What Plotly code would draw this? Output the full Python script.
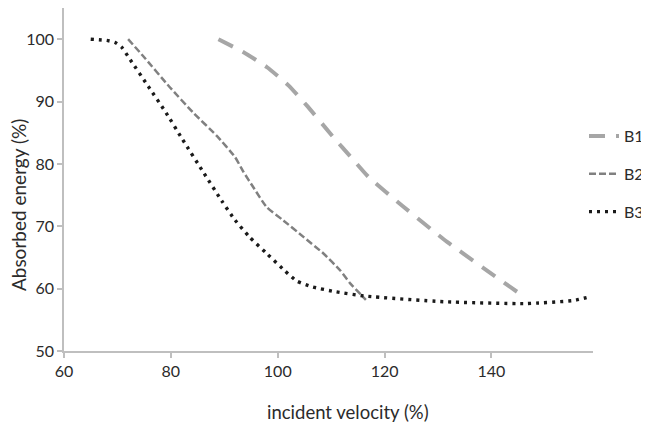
import plotly.graph_objects as go

# Data
b1_x = [88.9, 93.6, 98.0, 102.0, 105.5, 110.4, 113.9, 117.0, 123.3, 131.7, 146.1]
b1_y = [100, 97.9, 95.5, 92.6, 89.3, 84.3, 80.9, 77.9, 73.3, 67.5, 58.7]

b2_x = [72.0, 74.8, 79.8, 84.2, 88.6, 92.0, 93.6, 95.4, 97.9, 101.1, 104.8, 108.6, 111.7, 113.6, 116.5]
b2_y = [100, 97.3, 92.3, 88.2, 84.5, 81.1, 78.7, 76.3, 73.1, 70.9, 68.3, 65.6, 62.9, 60.8, 58.2]

b3_x = [65.0, 68.0, 69.5, 70.8, 72.4, 75.8, 79.1, 82.2, 86.2, 89.5, 92.0, 94.8, 98.1, 101.4,
        103.6, 106.4, 110.8, 116.4, 131.1, 146.4, 155.4, 158.4]
b3_y = [100, 99.8, 99.5, 98.7, 96.7, 92.4, 88.2, 83.9, 78.5, 74.1, 71.0, 68.2, 65.5, 62.8,
        61.2, 60.3, 59.5, 58.8, 57.9, 57.6, 58.1, 58.7]

series_names = ["B1", "B2", "B3"]
x_ticks = [60, 80, 100, 120, 140]
y_ticks = [50, 60, 70, 80, 90, 100]
x_title = "incident velocity (%)"
y_title = "Absorbed energy (%)"

FONT = "Lato, 'Open Sans', sans-serif"

fig = go.Figure()
fig.add_trace(go.Scatter(x=b1_x, y=b1_y, mode="lines", name=series_names[0], legendgroup="g1",
                         line=dict(color="#a6a6a6", width=4, dash="16px,11px", shape="spline", smoothing=0.5)))
fig.add_trace(go.Scatter(x=b2_x, y=b2_y, mode="lines", name=series_names[1], legendgroup="g2",
                         line=dict(color="#808080", width=2.5, dash="7px,3px", shape="spline", smoothing=0.5)))
fig.add_trace(go.Scatter(x=b3_x, y=b3_y, mode="lines", name=series_names[2], legendgroup="g3",
                         line=dict(color="#1a1a1a", width=3.4, dash="3px,5px", shape="spline", smoothing=0.5)))

axis_common = dict(showgrid=False, zeroline=False, showline=True, linecolor="#bfbfbf", linewidth=1.5,
                   ticks="outside", ticklen=5, tickcolor="#bfbfbf", tickwidth=1.5,
                   tickfont=dict(family=FONT, size=16, color="#2b2b2b"))

fig.update_xaxes(range=[60, 159], tickvals=x_ticks, **axis_common)
fig.update_yaxes(range=[50, 105], tickvals=y_ticks, **axis_common)

fig.add_annotation(text=x_title, xref="paper", yref="paper", x=0.537, y=-0.178,
                   showarrow=False, xanchor="center", yanchor="middle",
                   font=dict(family=FONT, size=18.5, color="#2b2b2b"))
fig.add_annotation(text=y_title, xref="paper", yref="paper", x=-0.086, y=0.424, textangle=-90,
                   showarrow=False, xanchor="center", yanchor="middle",
                   font=dict(family=FONT, size=19, color="#2b2b2b"))

# The page body has an 8px default margin, so the figure is sized to fit inside the window
fig.update_layout(
    width=641, height=417,
    margin=dict(l=56, r=56, t=0, b=74, autoexpand=False),
    plot_bgcolor="white", paper_bgcolor="white",
    showlegend=True,
    legend=dict(x=1.1059, y=0.676, xanchor="right", yanchor="top", traceorder="grouped",
                tracegroupgap=14, font=dict(family=FONT, size=16, color="#2b2b2b"),
                bgcolor="rgba(0,0,0,0)"),
)

fig.write_html("out.html")
